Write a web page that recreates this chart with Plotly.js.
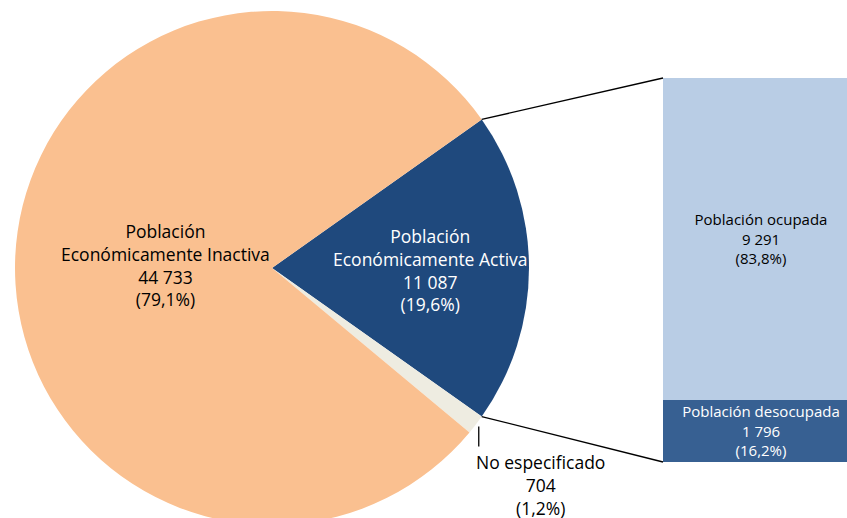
<!DOCTYPE html>
<html>
<head>
<meta charset="utf-8">
<script src="https://cdn.plot.ly/plotly-3.0.1.min.js"></script>
<style>
html, body { margin: 0; padding: 0; overflow: hidden; background: #fff; }
#chart { position: absolute; left: 0; top: 0; width: 860px; height: 530px; }
</style>
</head>
<body>
<div id="chart"></div>
<script>
// ---- data ----
var pieLabels = ["Población Económicamente Activa", "No especificado", "Población Económicamente Inactiva"];
var pieValues = [11087, 704, 44733];
var pieColors = ["#1F497D", "#EEECE1", "#FAC090"];

var barLabels = ["Población desocupada", "Población ocupada"];
var barValues = [1796, 9291];
var barColors = ["#376092", "#B9CDE5"];
var barTextColors = ["#FFFFFF", "#000000"];

// ---- helpers ----
var W = 860, H = 530;
function fmtNum(v) { return String(v).replace(/\B(?=(\d{3})+(?!\d))/g, " "); }
function fmtPct(v) { return "(" + v.toFixed(1).replace(".", ",") + "%)"; }
function px(x) { return x / W; }
function py(y) { return 1 - y / H; }

var pieTotal = pieValues.reduce(function (a, b) { return a + b; }, 0);
var barTotal = barValues.reduce(function (a, b) { return a + b; }, 0);

// pie geometry (pixels)
var cx = 272, cy = 268, R = 257;
var activeFrac = pieValues[0] / pieTotal;
var rotation = 90 - activeFrac * 180; // active slice centred at 3 o'clock
function piePoint(angDeg) {
  var a = angDeg * Math.PI / 180;
  return [cx + R * Math.sin(a), cy - R * Math.cos(a)];
}
var pTop = piePoint(rotation);
var pBot = piePoint(rotation + activeFrac * 360);
var neMid = rotation + activeFrac * 360 + (pieValues[1] / pieTotal) * 180;
var pNE = piePoint(neMid);

// bar geometry (pixels)
var barLeft = 663, barRight = 859, barTop = 78, barBottom = 462;

var pieTrace = {
  type: "pie",
  labels: pieLabels,
  values: pieValues,
  sort: false,
  direction: "clockwise",
  rotation: rotation,
  marker: { colors: pieColors, line: { width: 0 } },
  textinfo: "none",
  hoverinfo: "label+value+percent",
  showlegend: false,
  domain: { x: [px(cx - R), px(cx + R)], y: [py(cy + R), py(cy - R)] }
};

var barTraces = barValues.map(function (v, i) {
  return {
    type: "bar",
    x: [0],
    y: [v],
    width: [1],
    name: barLabels[i],
    marker: { color: barColors[i], line: { width: 0 } },
    text: [barLabels[i] + "<br>" + fmtNum(v) + "<br>" + fmtPct(v / barTotal * 100)],
    textposition: "inside",
    insidetextanchor: "middle",
    textangle: 0,
    constraintext: "none",
    textfont: { family: "Open Sans, sans-serif", size: 15, color: barTextColors[i] },
    hoverinfo: "name+y",
    showlegend: false,
    xaxis: "x",
    yaxis: "y"
  };
});

var labelFont = { family: "Open Sans, sans-serif", size: 17.5 };
function pieLabelText(i) {
  var parts = pieLabels[i].split(" ");
  var first = parts.shift();
  return first + "<br>" + parts.join(" ") + "<br>" + fmtNum(pieValues[i]) + "<br>" + fmtPct(pieValues[i] / pieTotal * 100);
}

var annotations = [
  { x: px(165), y: py(265), xref: "paper", yref: "paper", xanchor: "center", yanchor: "middle",
    text: pieLabelText(2), showarrow: false,
    font: Object.assign({}, labelFont, { color: "#000000" }), align: "center" },
  { x: px(430), y: py(270), xref: "paper", yref: "paper", xanchor: "center", yanchor: "middle",
    text: pieLabelText(0), showarrow: false,
    font: Object.assign({}, labelFont, { color: "#FFFFFF" }), align: "center" },
  { x: px(540), y: py(485), xref: "paper", yref: "paper", xanchor: "center", yanchor: "middle",
    text: pieLabels[1] + "<br>" + fmtNum(pieValues[1]) + "<br>" + fmtPct(pieValues[1] / pieTotal * 100),
    showarrow: false, font: Object.assign({}, labelFont, { color: "#000000" }), align: "center" }
];

var lineStyle = { color: "#000000", width: 1.3 };
var shapes = [
  { type: "line", xref: "paper", yref: "paper", x0: px(pTop[0]), y0: py(pTop[1]), x1: px(barLeft), y1: py(barTop), line: lineStyle },
  { type: "line", xref: "paper", yref: "paper", x0: px(pBot[0]), y0: py(pBot[1]), x1: px(barLeft), y1: py(barBottom), line: lineStyle },
  { type: "line", xref: "paper", yref: "paper", x0: px(pNE[0] + 3), y0: py(pNE[1] + 2), x1: px(pNE[0] + 3), y1: py(pNE[1] + 22), line: lineStyle }
];

var layout = {
  width: W,
  height: H,
  margin: { l: 0, r: 0, t: 0, b: 0 },
  paper_bgcolor: "#FFFFFF",
  plot_bgcolor: "rgba(0,0,0,0)",
  barmode: "stack",
  bargap: 0,
  showlegend: false,
  xaxis: { domain: [px(barLeft), px(barRight)], range: [-0.5, 0.5], visible: false, fixedrange: true },
  yaxis: { domain: [py(barBottom), py(barTop)], range: [0, barTotal], visible: false, fixedrange: true },
  annotations: annotations,
  shapes: shapes,
  font: { family: "Open Sans, sans-serif" }
};

Plotly.newPlot("chart", [pieTrace].concat(barTraces), layout, { displayModeBar: false, staticPlot: true });
</script>
</body>
</html>
